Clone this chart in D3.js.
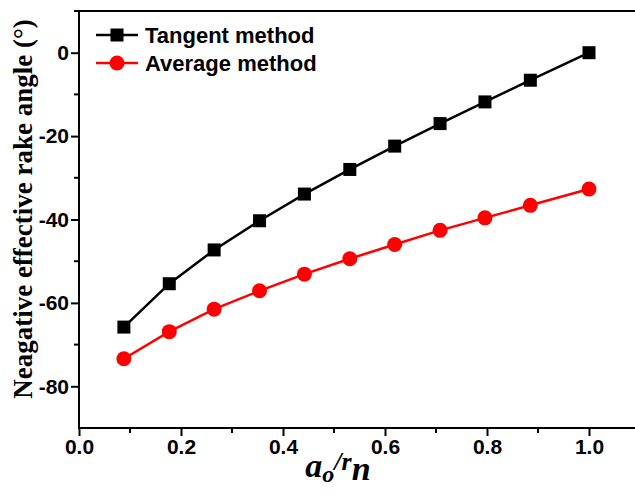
<!DOCTYPE html>
<html>
<head>
<meta charset="utf-8">
<script src="https://cdn.jsdelivr.net/npm/d3@7"></script>
<style>
  body { margin: 0; background: #fff; }
  svg { display: block; }
  .tick text { font-family: Arial, "Liberation Sans", sans-serif; font-weight: bold; font-size: 21px; fill: #000; }
</style>
</head>
<body>
<svg id="chart" width="635" height="496"></svg>
<script>
// ratio a_o / r_n
const ratio = [0.088, 0.177, 0.265, 0.354, 0.442, 0.531, 0.619, 0.708, 0.796, 0.885, 1.0];
const tangentAngle = [-65.8, -55.4, -47.3, -40.3, -33.9, -28.0, -22.4, -17.0, -11.8, -6.6, 0];
const averageAngle = [-73.4, -66.9, -61.5, -57.1, -53.1, -49.4, -46.0, -42.6, -39.6, -36.6, -32.7];
const xTicks = [0.0, 0.2, 0.4, 0.6, 0.8, 1.0];
const yTicks = [0, -20, -40, -60, -80];
const seriesNames = ['Tangent method', 'Average method'];

const svg = d3.select('#chart');
const plotLeft = 79, plotRight = 700, plotTop = 11, plotBottom = 428;

const x = d3.scaleLinear().domain([0, 1]).range([plotLeft, 589]);
const y = d3.scaleLinear().domain([-90, 10]).range([plotBottom, plotTop]);

// frame (right side runs off the picture)
svg.append('path')
    .attr('d', `M${plotRight},${plotTop}H${plotLeft}V${plotBottom}H${plotRight}`)
    .attr('fill', 'none')
    .attr('stroke', '#000')
    .attr('stroke-width', 2);

// minor ticks
const xMinor = [0.1, 0.3, 0.5, 0.7, 0.9, 1.1];
svg.append('g').selectAll('line').data(xMinor).enter().append('line')
    .attr('x1', d => x(d)).attr('x2', d => x(d))
    .attr('y1', plotBottom).attr('y2', plotBottom + 5)
    .attr('stroke', '#000').attr('stroke-width', 2);
const yMinor = [10, -10, -30, -50, -70];
svg.append('g').selectAll('line').data(yMinor).enter().append('line')
    .attr('x1', plotLeft).attr('x2', plotLeft - 5)
    .attr('y1', d => y(d)).attr('y2', d => y(d))
    .attr('stroke', '#000').attr('stroke-width', 2);

const xAxis = svg.append('g')
    .attr('transform', `translate(0,${plotBottom})`)
    .call(d3.axisBottom(x).tickValues(xTicks).tickFormat(d3.format('.1f')).tickSize(8).tickPadding(3));
const yAxis = svg.append('g')
    .attr('transform', `translate(${plotLeft},0)`)
    .call(d3.axisLeft(y).tickValues(yTicks).tickFormat(d => d).tickSize(8).tickPadding(2));
[xAxis, yAxis].forEach(a => {
    a.select('.domain').remove();
    a.selectAll('.tick line').attr('stroke', '#000').attr('stroke-width', 2);
});

// series
const line = d3.line().x(d => x(d[0])).y(d => y(d[1]));
const tData = ratio.map((r, i) => [r, tangentAngle[i]]);
const aData = ratio.map((r, i) => [r, averageAngle[i]]);

svg.append('path').datum(tData).attr('d', line)
    .attr('fill', 'none').attr('stroke', '#000').attr('stroke-width', 2.5);
svg.append('path').datum(aData).attr('d', line)
    .attr('fill', 'none').attr('stroke', '#f00').attr('stroke-width', 2.5);

svg.append('g').selectAll('rect').data(tData).enter().append('rect')
    .attr('x', d => x(d[0]) - 6.5).attr('y', d => y(d[1]) - 6.5)
    .attr('width', 13).attr('height', 13).attr('fill', '#000');
svg.append('g').selectAll('circle').data(aData).enter().append('circle')
    .attr('cx', d => x(d[0])).attr('cy', d => y(d[1]))
    .attr('r', 7.5).attr('fill', '#f00');

// legend
const legend = svg.append('g').attr('transform', 'translate(96,35)');
seriesNames.forEach((name, i) => {
    const g = legend.append('g').attr('transform', `translate(0,${i * 28})`);
    const color = i === 0 ? '#000' : '#f00';
    g.append('line').attr('x1', 0).attr('x2', 42).attr('stroke', color).attr('stroke-width', 2.5);
    if (i === 0) g.append('rect').attr('x', 14.5).attr('y', -6.5).attr('width', 13).attr('height', 13).attr('fill', color);
    else g.append('circle').attr('cx', 21).attr('r', 7.5).attr('fill', color);
    g.append('text').attr('x', 49).attr('dy', '0.35em')
        .attr('font-family', 'Arial, "Liberation Sans", sans-serif')
        .attr('font-weight', 'bold').attr('font-size', 22)
        .text(name);
});

// axis titles
svg.append('text')
    .attr('transform', 'translate(32,209) rotate(-90)')
    .attr('text-anchor', 'middle')
    .attr('font-family', '"Times New Roman", "Liberation Serif", serif')
    .attr('font-weight', 'bold').attr('font-size', 27)
    .text('Neagative effective rake angle (°)');

const xt = svg.append('text')
    .attr('x', 338).attr('y', 477)
    .attr('text-anchor', 'middle')
    .attr('font-family', '"Times New Roman", "Liberation Serif", serif')
    .attr('font-weight', 'bold').attr('font-style', 'italic').attr('font-size', 34);
xt.append('tspan').text('a');
xt.append('tspan').attr('font-size', 24).attr('dy', 5).text('o');
xt.append('tspan').attr('font-size', 26).attr('dy', -12).text('/r');
xt.append('tspan').attr('font-size', 34).attr('dy', 10).text('n');
</script>
</body>
</html>
